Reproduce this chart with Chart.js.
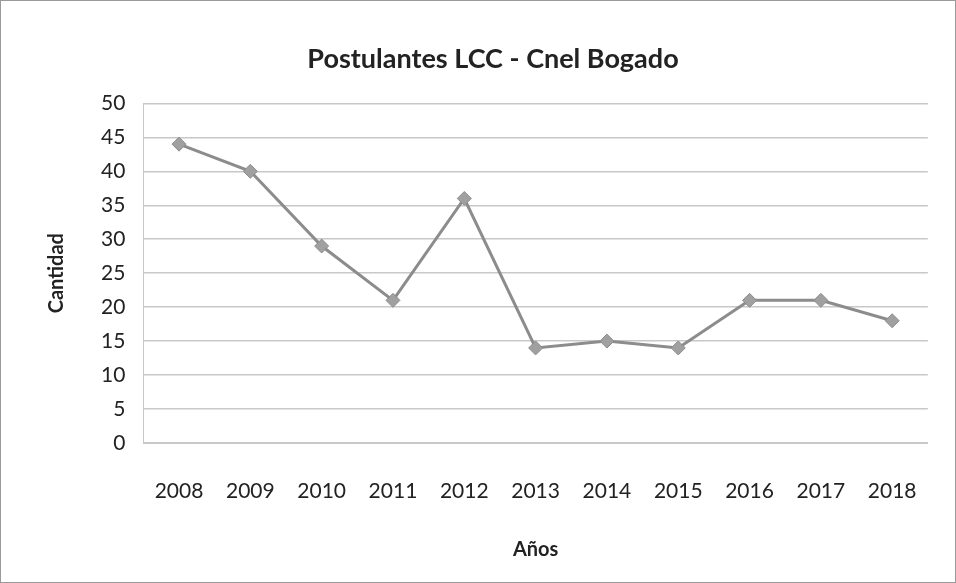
<!DOCTYPE html>
<html>
<head>
<meta charset="utf-8">
<script src="https://cdn.jsdelivr.net/npm/chart.js@4"></script>
<style>
  html, body { margin: 0; padding: 0; background: #fff; }
  #wrap { position: relative; width: 954px; height: 581px; border: 1px solid #9a9a9a; }
  canvas { display: block; }
</style>
</head>
<body>
<div id="wrap"><canvas id="chart" width="954" height="581"></canvas></div>
<script>
// data
const YEARS = ["2008", "2009", "2010", "2011", "2012", "2013", "2014", "2015", "2016", "2017", "2018"];
const POSTULANTES = [44, 40, 29, 21, 36, 14, 15, 14, 21, 21, 18];
const Y_MIN = 0;
const Y_MAX = 50;
const Y_STEP = 5;

const FONT = "Lato, 'Open Sans', sans-serif";
const TEXT = "#222222";

const ctx = document.getElementById("chart");
Chart.defaults.font.family = FONT;
Chart.defaults.color = TEXT;

new Chart(ctx, {
  type: "line",
  data: {
    labels: YEARS,
    datasets: [
      {
        label: "Postulantes",
        data: POSTULANTES,
        borderColor: "#8c8c8c",
        backgroundColor: "#999999",
        borderWidth: 3,
        pointStyle: "rectRot",
        pointRadius: 7,
        pointBorderWidth: 1,
        pointBorderColor: "#8c8c8c",
        pointBackgroundColor: "#a0a0a0",
        tension: 0,
      },
    ],
  },
  options: {
    responsive: false,
    animation: false,
    layout: { padding: { left: 40, right: 10, top: 22, bottom: 18 } },
    plugins: {
      legend: { display: false },
      tooltip: { enabled: false },
      title: {
        display: true,
        text: "Postulantes LCC - Cnel Bogado",
        font: { size: 27, weight: "bold" },
        color: TEXT,
        padding: { top: 20, bottom: 28 },
      },
    },
    scales: {
      x: {
        offset: true,
        grid: { display: false, drawTicks: false },
        border: { color: "#c8c8c8" },
        ticks: { font: { size: 21, lineHeight: 1.0 }, color: TEXT, padding: 38 },
        title: {
          display: true,
          text: "Años",
          font: { size: 20, weight: "bold", lineHeight: 1.0 },
          color: TEXT,
          padding: { top: 0 },
        },
      },
      y: {
        min: Y_MIN,
        max: Y_MAX,
        ticks: { stepSize: Y_STEP, font: { size: 21 }, color: TEXT, padding: 18 },
        grid: { color: "#c8c8c8", lineWidth: 1.5, drawTicks: false },
        border: { color: "#c8c8c8", display: true },
        title: {
          display: true,
          text: "Cantidad",
          font: { size: 20, weight: "bold" },
          color: TEXT,
          padding: { bottom: 14 },
        },
      },
    },
  },
});
</script>
</body>
</html>
